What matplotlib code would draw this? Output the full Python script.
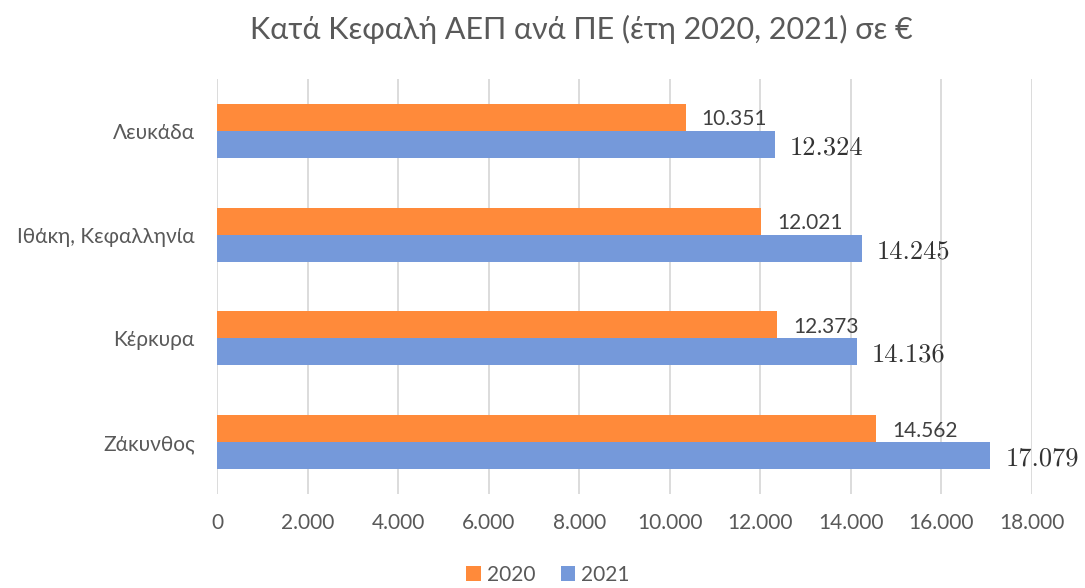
import matplotlib.pyplot as plt
import numpy as np
from matplotlib.ticker import FuncFormatter

categories = ['Λευκάδα', 'Ιθάκη, Κεφαλληνία', 'Κέρκυρα', 'Ζάκυνθος']
values_2020 = [10351, 12021, 12373, 14562]
values_2021 = [12324, 14245, 14136, 17079]
series_names = ['2020', '2021']

orange = '#FF8A3A'
blue = '#7599DA'
grey = '#595959'

plt.rcParams['font.family'] = ['Lato', 'DejaVu Sans']

fig = plt.figure(figsize=(10.85, 5.88), dpi=100)
ax = fig.add_axes([217/1085, 1-494/588, (1032-217)/1085, (494-79)/588])

y = np.arange(len(categories))
h = 0.26
b20 = ax.barh(y - h/2, values_2020, height=h, color=orange, label=series_names[0])
b21 = ax.barh(y + h/2, values_2021, height=h, color=blue, label=series_names[1])

def fmt(v):
    return f'{v:,.0f}'.replace(',', '.')

# value labels: 2020 in sans, 2021 in a serif face like the original
for rect, v in zip(b20, values_2020):
    ax.text(rect.get_width() + 350, rect.get_y() + rect.get_height()/2 + 0.02, fmt(v),
            va='center', ha='left', fontsize=15, color='#404040')
for rect, v in zip(b21, values_2021):
    ax.text(rect.get_width() + 330, rect.get_y() + rect.get_height()/2 + 0.03, fmt(v),
            va='center', ha='left', fontsize=19, color='#333333', family='cmr10')

ax.set_xlim(0, 18000)
ax.set_ylim(len(categories) - 0.5, -0.5)
ax.set_xticks(np.arange(0, 18001, 2000))
ax.xaxis.set_major_formatter(FuncFormatter(lambda v, p: fmt(v)))
ax.set_yticks(y)
ax.set_yticklabels(categories)
ax.tick_params(axis='x', length=0, pad=14, labelsize=15, labelcolor=grey)
ax.tick_params(axis='y', length=0, pad=16, labelsize=15, labelcolor=grey)

ax.grid(axis='x', color='#D9D9D9', linewidth=1.3)
ax.set_axisbelow(True)
for s in ax.spines.values():
    s.set_visible(False)

fig.text(581/1085, 1 - 29/588, 'Κατά Κεφαλή ΑΕΠ ανά ΠΕ (έτη 2020, 2021) σε €', ha='center', va='center',
         fontsize=22, color=grey)

leg = fig.legend(handles=[b20, b21], labels=series_names, loc='center', bbox_to_anchor=(548/1085, 1 - 575/588),
                 ncol=2, frameon=False, fontsize=15, handlelength=0.7, handleheight=0.7,
                 handletextpad=0.3, columnspacing=1.2)
for t in leg.get_texts():
    t.set_color(grey)

fig.savefig('out.png', dpi=100)
